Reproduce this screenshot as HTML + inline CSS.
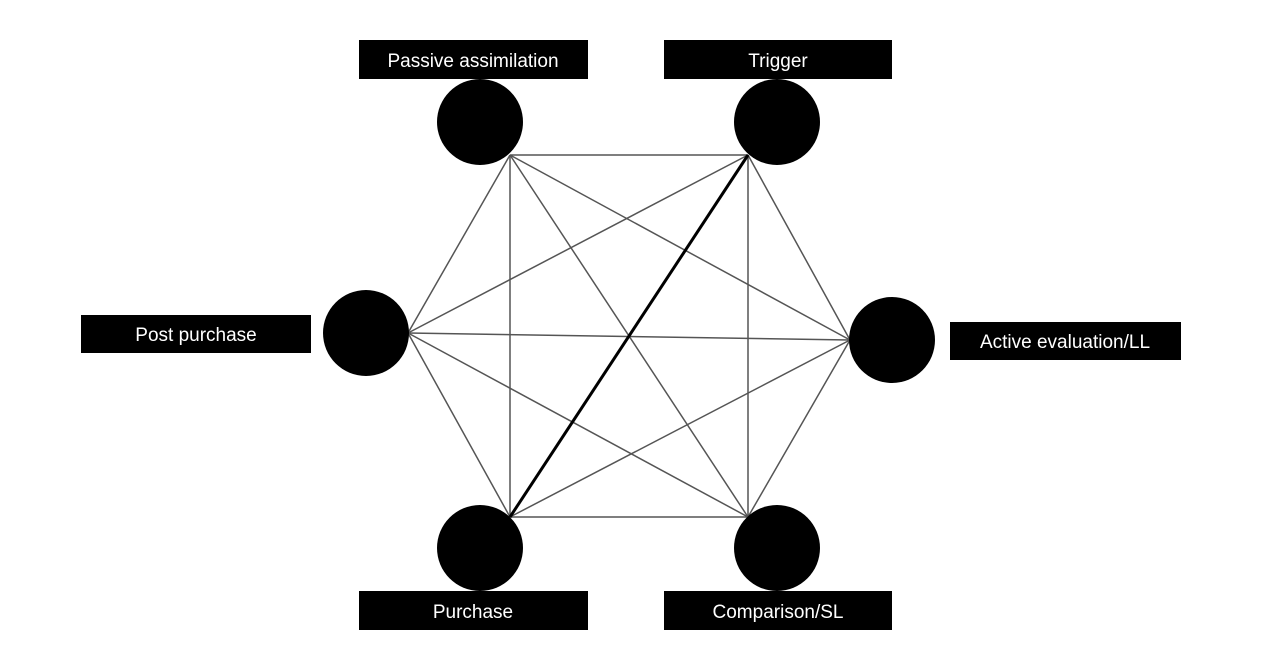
<!DOCTYPE html>
<html><head><style>
body{margin:0;background:#fff;}
svg{display:block;}
text{font-family:"Liberation Sans",sans-serif;font-size:19px;fill:#fff;text-anchor:middle;}
</style></head><body>
<svg width="1272" height="664" viewBox="0 0 1272 664">
<g stroke="#555" stroke-width="1.5">
<line x1="510" y1="155" x2="748" y2="155"/>
<line x1="510" y1="155" x2="408" y2="333"/>
<line x1="510" y1="155" x2="850" y2="340"/>
<line x1="510" y1="155" x2="510" y2="517"/>
<line x1="510" y1="155" x2="748" y2="517"/>
<line x1="748" y1="155" x2="408" y2="333"/>
<line x1="748" y1="155" x2="850" y2="340"/>
<line x1="748" y1="155" x2="748" y2="517"/>
<line x1="408" y1="333" x2="850" y2="340"/>
<line x1="408" y1="333" x2="510" y2="517"/>
<line x1="408" y1="333" x2="748" y2="517"/>
<line x1="850" y1="340" x2="510" y2="517"/>
<line x1="850" y1="340" x2="748" y2="517"/>
<line x1="510" y1="517" x2="748" y2="517"/>
</g>
<line x1="748" y1="155" x2="510" y2="517" stroke="#000" stroke-width="3"/>
<g fill="#000">
<circle cx="480" cy="122" r="43"/>
<circle cx="777" cy="122" r="43"/>
<circle cx="366" cy="333" r="43"/>
<circle cx="892" cy="340" r="43"/>
<circle cx="480" cy="548" r="43"/>
<circle cx="777" cy="548" r="43"/>
<rect x="359" y="40" width="229" height="39"/>
<rect x="664" y="40" width="228" height="39"/>
<rect x="81" y="315" width="230" height="38"/>
<rect x="950" y="322" width="231" height="38"/>
<rect x="359" y="591" width="229" height="39"/>
<rect x="664" y="591" width="228" height="39"/>
</g>
<text x="473" y="67">Passive  assimilation</text>
<text x="778" y="67">Trigger</text>
<text x="196" y="341">Post purchase</text>
<text x="1065" y="348">Active evaluation/LL</text>
<text x="473" y="618">Purchase</text>
<text x="778" y="618">Comparison/SL</text>
</svg>
</body></html>
